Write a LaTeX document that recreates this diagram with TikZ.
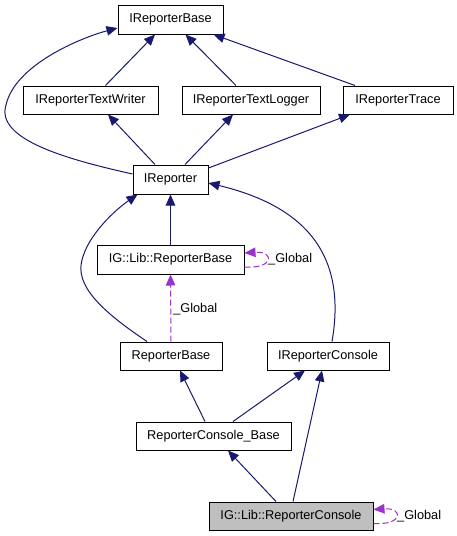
\documentclass[tikz,border=0pt]{standalone}
\usepackage{fontspec}
\setmainfont{Liberation Sans}
\usetikzlibrary{arrows.meta}
\definecolor{navy}{HTML}{191970}
\definecolor{purp}{HTML}{9A32CD}
\definecolor{grayfill}{HTML}{BFBFBF}
\begin{document}
\begin{tikzpicture}[x=1pt,y=-1pt,
  box/.style={draw=black,line width=1pt,fill=white,inner sep=0pt,minimum height=29pt,font=\fontsize{12.75}{14}\selectfont},
  edge/.style={draw=navy,line width=1pt,-{Triangle[length=11pt,width=9.5pt]}},
  rel/.style={draw=purp,line width=1pt,dash pattern=on 6pt off 3pt,-{Triangle[length=11pt,width=9.5pt]}},
  lbl/.style={font=\fontsize{12.75}{14}\selectfont,anchor=west,inner sep=0pt}]
\useasboundingbox[fill=white] (0,0) rectangle (456,536);
\node[box,minimum width=105pt] (base) at (170.5,19.5) {IReporterBase};
\node[box,minimum width=135pt,minimum height=28pt] (writer) at (90.5,100) {IReporterTextWriter};
\node[box,minimum width=138pt,minimum height=28pt] (logger) at (251,100) {IReporterTextLogger};
\node[box,minimum width=110pt,minimum height=28pt] (trace) at (398,100) {IReporterTrace};
\node[box,minimum width=75pt] (rep) at (170.5,179.5) {IReporter};
\node[box,minimum width=147pt] (iglrb) at (170.5,259.5) {IG::Lib::ReporterBase};
\node[box,minimum width=102pt,minimum height=28pt] (rb) at (171,356) {ReporterBase};
\node[box,minimum width=122pt,minimum height=28pt] (irc) at (328,356) {IReporterConsole};
\node[box,minimum width=155pt,minimum height=28pt] (rcb) at (213.5,436) {ReporterConsole\_Base};
\node[box,minimum width=164pt,minimum height=28pt,fill=grayfill] (iglrc) at (291,516) {IG::Lib::ReporterConsole};
% edges
\draw[edge] ([xshift=15pt]writer.north) -- ([xshift=-15.5pt]base.south);
\draw[edge] ([xshift=-15pt]logger.north) -- ([xshift=15pt]base.south);
\draw[edge] ([xshift=-43pt]trace.north) -- ([xshift=43pt]base.south);
\draw[edge] ([yshift=5.5pt]rep.west) .. controls (70,160) and (-5,140) .. (6,105) .. controls (15,65) and (80,38) .. ([yshift=-8.5pt]base.west);
\draw[edge] ([xshift=-15.5pt]rep.north) -- ([xshift=17.5pt]writer.south);
\draw[edge] ([xshift=14.5pt]rep.north) -- ([xshift=-18pt]logger.south);
\draw[edge] ([yshift=11.5pt]rep.east) -- ([xshift=-48pt]trace.south);
\draw[edge] (iglrb.north) -- (rep.south);
\draw[edge] ([xshift=-24pt]rb.north) .. controls (100,310) and (75,285) .. (82,260) .. controls (88,235) and (115,210) .. ([xshift=5pt]rep.south west);
\draw[edge] ([xshift=4pt]irc.north) .. controls (348,250) and (300,205) .. ([yshift=-3.5pt]rep.east);
\draw[rel] (rb.north) -- node[lbl,xshift=2pt,pos=0.48] {\_Global} (iglrb.south);
\draw[rel] ([yshift=-7.5pt]iglrb.east) .. controls +(30,2) and +(30,-2) .. ([yshift=6.5pt]iglrb.east);
\node[lbl] (l1) at (268,259.5) {\_Global};
\draw[edge] ([xshift=-8.5pt]rcb.north) -- ([xshift=9pt]rb.south);
\draw[edge] ([xshift=19.5pt]rcb.north) -- ([xshift=-23pt]irc.south);
\draw[edge] ([xshift=-15pt]iglrc.north) -- ([xshift=14.5pt]rcb.south);
\draw[edge] ([xshift=2pt]iglrc.north) -- ([xshift=-6pt]irc.south);
\draw[rel] ([yshift=-7.5pt]iglrc.east) .. controls +(30,2) and +(30,-2) .. ([yshift=6.5pt]iglrc.east);
\node[lbl] (l2) at (397,516) {\_Global};
\end{tikzpicture}
\end{document}
